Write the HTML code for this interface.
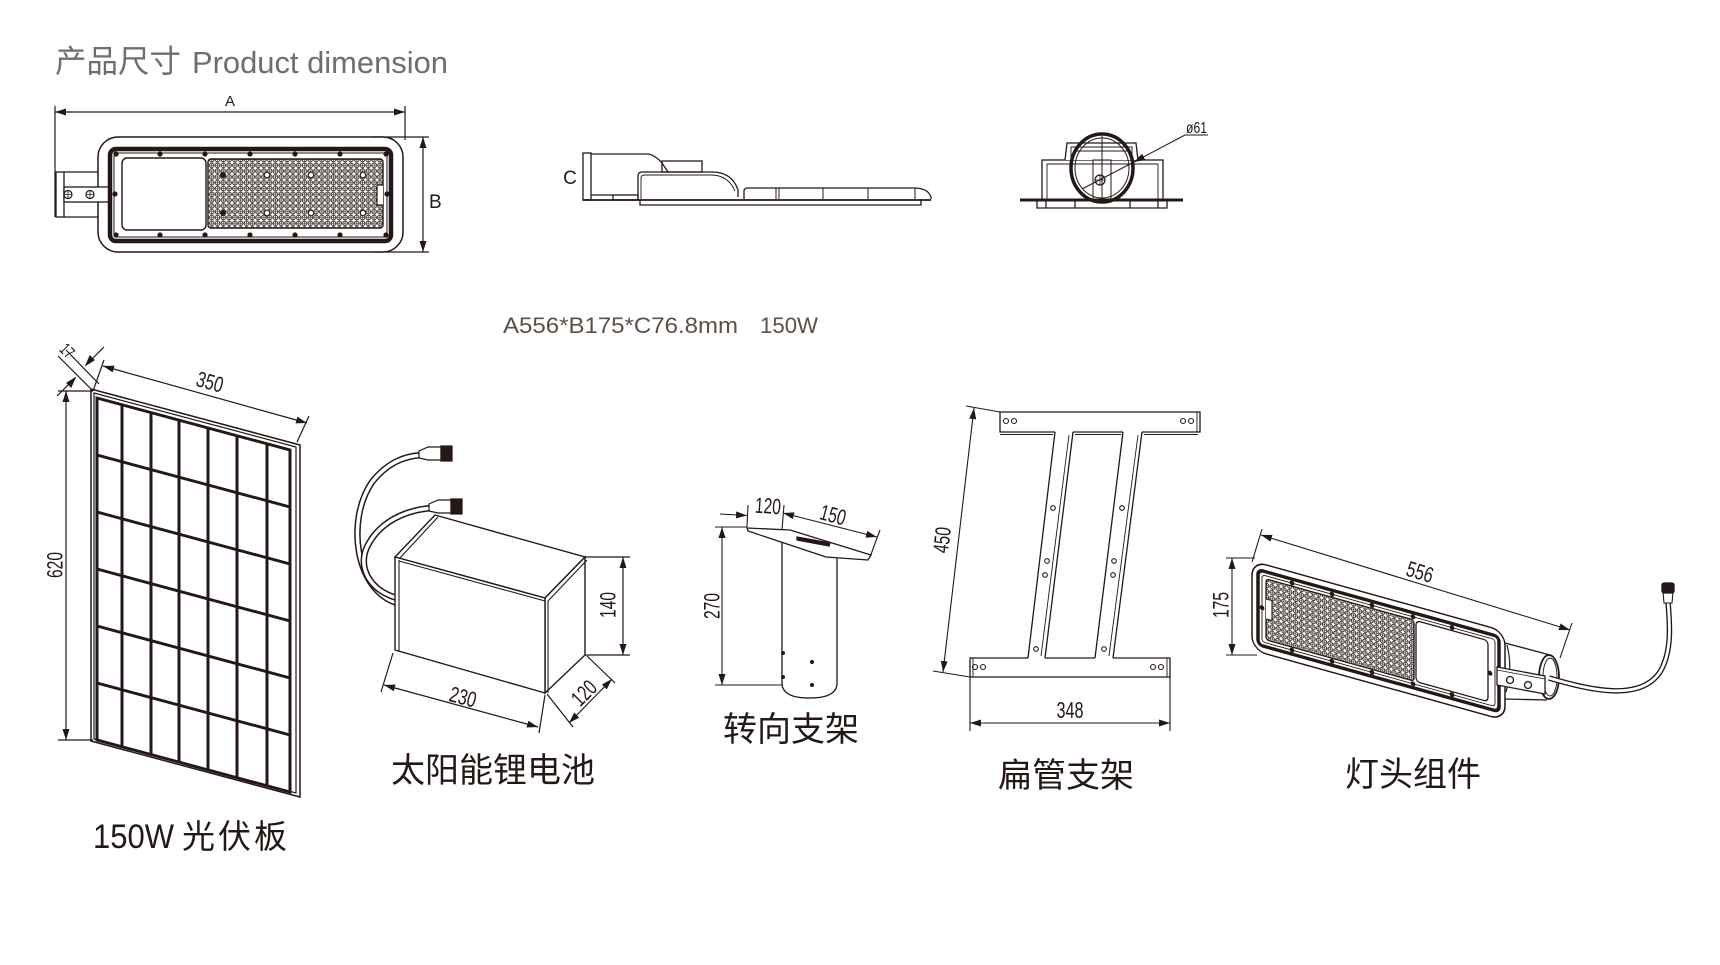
<!DOCTYPE html>
<html><head><meta charset="utf-8">
<style>
html,body{margin:0;padding:0;background:#fff;}
svg{display:block;}
text{font-family:"Liberation Sans","Noto Sans CJK SC",sans-serif;fill:#231815;}
.cj{font-family:"Liberation Sans","Noto Sans CJK SC",sans-serif;}
</style></head><body>
<svg width="1720" height="965" viewBox="0 0 1720 965" xmlns="http://www.w3.org/2000/svg">
<defs>
<marker id="ae" markerUnits="userSpaceOnUse" markerWidth="12" markerHeight="8" refX="11" refY="3.5" orient="auto"><path d="M0,0 L11,3.5 L0,7 z" fill="#231815"/></marker>
<marker id="as" markerUnits="userSpaceOnUse" markerWidth="12" markerHeight="8" refX="0" refY="3.5" orient="auto"><path d="M11,0 L0,3.5 L11,7 z" fill="#231815"/></marker>
<pattern id="led" width="5.8" height="5.8" patternUnits="userSpaceOnUse"><rect width="5.8" height="5.8" fill="#fff"/><circle cx="2.9" cy="2.9" r="2.3" fill="none" stroke="#231815" stroke-width="0.95"/><path d="M2.9 1.3V4.5M1.3 2.9H4.5" stroke="#231815" stroke-width="0.6"/></pattern>
</defs>
<rect width="1720" height="965" fill="#fff"/>

<!-- Title -->
<text x="55" y="72" font-size="31.5" style="fill:#6e6e6e">产品尺寸</text>
<text x="192" y="73" font-size="31" textLength="256" lengthAdjust="spacingAndGlyphs" style="fill:#6e6e6e">Product dimension</text>

<!-- ============ TOP VIEW ============ -->
<g fill="none" stroke="#231815" stroke-width="1.2">
  <line x1="55" y1="106" x2="55" y2="217"/>
  <line x1="405" y1="106" x2="405" y2="140"/>
  <line x1="55" y1="112" x2="405" y2="112" marker-start="url(#as)" marker-end="url(#ae)"/>
  <line x1="372" y1="137" x2="429" y2="137"/>
  <line x1="372" y1="252" x2="429" y2="252"/>
  <line x1="423" y1="137" x2="423" y2="252" marker-start="url(#as)" marker-end="url(#ae)"/>
  <rect x="56" y="172" width="8" height="45" stroke-width="1.3"/>
  <path d="M64 172 H100 M64 217 H100" stroke-width="1.3"/>
  <rect x="98" y="137" width="305" height="115" rx="20" fill="#fff" stroke-width="1.5"/>
  <rect x="64" y="187" width="46" height="15" fill="#fff" stroke-width="1.3"/>
  <rect x="110" y="149" width="281" height="92" rx="6" stroke-width="4.5"/>
  <rect x="114" y="153" width="273" height="84" rx="3" stroke-width="1"/>
  <rect x="122" y="158" width="84" height="72" rx="5" stroke-width="1.4"/>
  <rect x="208" y="159" width="175" height="69" rx="3" fill="url(#led)" stroke-width="1.4"/>
  <path d="M383 185 H377 V205 H383" fill="#fff" stroke-width="1.2"/>
  <circle cx="68" cy="194.5" r="4" stroke-width="1.2"/>
  <circle cx="90" cy="194.5" r="4" stroke-width="1.2"/>
  <path d="M68 190.5V198.5M64 194.5H72M90 190.5V198.5M86 194.5H94" stroke-width="0.8"/>
</g>
<g fill="#231815">
  <circle cx="116" cy="154" r="2.6"/><circle cx="160" cy="154" r="2.6"/><circle cx="205" cy="154" r="2.6"/><circle cx="250" cy="154" r="2.6"/><circle cx="295" cy="154" r="2.6"/><circle cx="340" cy="154" r="2.6"/><circle cx="386" cy="154" r="2.6"/>
  <circle cx="116" cy="235" r="2.6"/><circle cx="160" cy="235" r="2.6"/><circle cx="205" cy="235" r="2.6"/><circle cx="250" cy="235" r="2.6"/><circle cx="295" cy="235" r="2.6"/><circle cx="340" cy="235" r="2.6"/><circle cx="386" cy="235" r="2.6"/>
  <circle cx="115" cy="194" r="2.6"/><circle cx="387" cy="194" r="2.6"/>
  <circle cx="223" cy="175" r="3"/><circle cx="223" cy="213" r="3"/>
</g>
<g fill="#fff" stroke="#231815" stroke-width="1.2">
  <circle cx="267" cy="175" r="2.8"/><circle cx="311" cy="175" r="2.8"/><circle cx="363" cy="175" r="2.8"/>
  <circle cx="267" cy="213" r="2.8"/><circle cx="311" cy="213" r="2.8"/><circle cx="363" cy="213" r="2.8"/>
</g>
<text x="230" y="106" font-size="15" text-anchor="middle">A</text>
<text x="429" y="208" font-size="19">B</text>

<!-- ============ SIDE VIEW ============ -->
<g fill="none" stroke="#231815" stroke-width="1.3">
  <rect x="583" y="153" width="8" height="47"/>
  <path d="M591 154 H649 Q656 156 662 163 L668 172"/>
  <rect x="662" y="161" width="40" height="11"/>
  <path d="M638 200 V176 Q638 172 642 172 H712 Q732 172 738 190 V197"/>
  <path d="M641 199 V178 Q641 175 645 175 H711 Q728 175 735 191" stroke-width="0.9"/>
  <path d="M744 199 V191 Q744 188 748 188 H914 Q928 188 931 197 V199"/>
  <path d="M776 188 V199 M779 188 V199 M823 188 V199 M868 188 V199 M915 188 V199" stroke-width="1"/>
  <line x1="583" y1="200" x2="931" y2="200" stroke-width="1.8"/>
  <path d="M640 200 V205 H921 V200"/>
  <rect x="613" y="195" width="25" height="5"/>
  <line x1="591" y1="195" x2="613" y2="195"/>
</g>
<text x="570" y="184" font-size="19" text-anchor="middle">C</text>

<!-- ============ END VIEW ============ -->
<g fill="none" stroke="#231815" stroke-width="1.3">
  <path d="M1037 200 V208 H1167 V200 M1046 200 V208 M1075 200 V208 M1130 200 V208 M1158 200 V208"/>
  <rect x="1042" y="160" width="121" height="40" fill="#fff"/>
  <path d="M1047 200 V164 H1158 V200" stroke-width="0.9"/>
  <path d="M1065 160 L1067 143 H1136 L1138 160" fill="#fff"/>
  <path d="M1071 160 V147 H1132 V160" stroke-width="0.9"/>
  <rect x="1093" y="160" width="18" height="40" stroke-width="1"/>
  <ellipse cx="1102" cy="168" rx="31" ry="34" stroke-width="3.5"/>
  <ellipse cx="1102" cy="168" rx="27" ry="30" stroke-width="1"/>
  <line x1="1102" y1="136" x2="1102" y2="200" stroke-width="1"/>
  <line x1="1074" y1="151" x2="1130" y2="151" stroke-width="1"/>
  <circle cx="1100" cy="180" r="5" stroke-width="1.2"/>
  <path d="M1100 175V185M1095 180H1105" stroke-width="0.8"/>
  <line x1="1020" y1="200" x2="1183" y2="200" stroke-width="3"/>
  <line x1="1082" y1="189" x2="1134" y2="162" stroke-width="1"/>
  <line x1="1134" y1="162" x2="1185" y2="135" stroke-width="1" marker-start="url(#as)"/>
  <line x1="1185" y1="135" x2="1208" y2="135" stroke-width="1"/>
</g>
<text x="1186" y="133" font-size="16" textLength="21" lengthAdjust="spacingAndGlyphs">ø61</text>

<!-- spec line -->
<text x="503" y="333" font-size="22" textLength="235" lengthAdjust="spacingAndGlyphs" style="fill:#5b4f47">A556*B175*C76.8mm</text>
<text x="760" y="333" font-size="22" textLength="58" lengthAdjust="spacingAndGlyphs" style="fill:#5b4f47">150W</text>

<!-- ============ SOLAR PANEL ============ -->
<g fill="none" stroke="#231815">
  <polygon points="91,389 300,445 300,797 91,741" stroke-width="1.5" fill="#fff"/>
  <polygon points="94,393 296,447 296,793 94,739" stroke-width="1.2"/>
  <g transform="matrix(1 0.2694 0 1 0 -26.13)" stroke-width="3">
    <rect x="97" y="398" width="193" height="342"/>
    <path d="M122 398V740M151 398V740M179 398V740M208 398V740M237 398V740M267 398V740"/>
    <path d="M97 455H290M97 512H290M97 569H290M97 626H290M97 683H290"/>
  </g>
  <g stroke-width="1.2">
    <line x1="58" y1="391" x2="93" y2="391"/>
    <line x1="58" y1="740" x2="93" y2="740"/>
    <line x1="66" y1="391" x2="66" y2="740" marker-start="url(#as)" marker-end="url(#ae)"/>
    <line x1="93" y1="391" x2="104" y2="360"/>
    <line x1="297" y1="442" x2="309" y2="416"/>
    <line x1="103" y1="366" x2="307" y2="423" marker-start="url(#as)" marker-end="url(#ae)"/>
    <line x1="58" y1="356" x2="93" y2="391"/>
    <line x1="66" y1="350" x2="99" y2="384"/>
    <line x1="57" y1="396" x2="75" y2="378"/>
    <line x1="104" y1="347" x2="86" y2="365"/>
    <path d="M75 378 L67 383 L71 387 z M86 365 L94 360 L90 356 z" fill="#231815"/>
  </g>
</g>
<text transform="translate(55,565) rotate(-90)" font-size="22" text-anchor="middle" dominant-baseline="central" textLength="26" lengthAdjust="spacingAndGlyphs">620</text>
<text transform="translate(210,382) rotate(15.6)" font-size="22" text-anchor="middle" dominant-baseline="central" textLength="27" lengthAdjust="spacingAndGlyphs">350</text>
<text transform="translate(67,351) rotate(45)" font-size="17" text-anchor="middle" dominant-baseline="central" textLength="13" lengthAdjust="spacingAndGlyphs">17</text>
<text x="93" y="848" font-size="34" textLength="81" lengthAdjust="spacingAndGlyphs">150W</text>
<text x="182" y="848" font-size="33" letter-spacing="3" class="cj">光伏板</text>

<!-- ============ BATTERY ============ -->
<g fill="none" stroke="#231815">
  <path d="M397 603 C355 590 346 520 372 482 C388 462 405 456 422 455" stroke-width="6.5"/>
  <path d="M397 603 C355 590 346 520 372 482 C388 462 405 456 422 455" stroke="#fff" stroke-width="3.5"/>
  <path d="M397 598 C368 590 357 565 368 545 C380 522 405 510 432 508" stroke-width="6.5"/>
  <path d="M397 598 C368 590 357 565 368 545 C380 522 405 510 432 508" stroke="#fff" stroke-width="3.5"/>
  <g stroke-width="1.2" fill="#fff">
    <polygon points="419,451 428,447 441,447 441,460 428,460 419,458"/>
    <rect x="441" y="446" width="11" height="15" fill="#231815"/>
    <polygon points="429,504 438,500 451,500 451,513 438,513 429,511"/>
    <rect x="451" y="499" width="11" height="15" fill="#231815"/>
  </g>
  <g stroke-width="1.4" fill="#fff">
    <polygon points="395,557 435,515 585,557 545,598"/>
    <polygon points="545,598 585,557 585,655 545,693"/>
    <polygon points="395,557 545,598 545,693 395,650"/>
  </g>
  <g stroke-width="1.1">
    <line x1="399" y1="560" x2="399" y2="652"/>
    <line x1="399" y1="561" x2="545" y2="601"/>
    <line x1="548" y1="601" x2="548" y2="693"/>
    <line x1="548" y1="601" x2="587" y2="560"/>
    <line x1="399" y1="559" x2="438" y2="517"/>
  </g>
  <g stroke-width="1.2">
    <line x1="585" y1="557" x2="630" y2="557"/>
    <line x1="585" y1="655" x2="630" y2="655"/>
    <line x1="623" y1="557" x2="623" y2="655" marker-start="url(#as)" marker-end="url(#ae)"/>
    <line x1="393" y1="653" x2="381" y2="692"/>
    <line x1="545" y1="695" x2="539" y2="733"/>
    <line x1="384" y1="685" x2="538" y2="727" marker-start="url(#as)" marker-end="url(#ae)"/>
    <line x1="547" y1="694" x2="573" y2="727"/>
    <line x1="587" y1="656" x2="615" y2="683"/>
    <line x1="569" y1="723" x2="612" y2="679" marker-start="url(#as)" marker-end="url(#ae)"/>
  </g>
</g>
<text transform="translate(608,605) rotate(-90)" font-size="22" text-anchor="middle" dominant-baseline="central" textLength="26" lengthAdjust="spacingAndGlyphs">140</text>
<text transform="translate(463,697) rotate(15)" font-size="22" text-anchor="middle" dominant-baseline="central" textLength="27" lengthAdjust="spacingAndGlyphs">230</text>
<text transform="translate(584,693) rotate(-45)" font-size="22" text-anchor="middle" dominant-baseline="central" textLength="26" lengthAdjust="spacingAndGlyphs">120</text>
<text x="391" y="782" font-size="34" class="cj">太阳能锂电池</text>

<!-- ============ SWIVEL BRACKET ============ -->
<g fill="none" stroke="#231815" stroke-width="1.3">
  <path d="M782 531 V683 Q782 698 809.5 698 Q837 698 837 683 V556" fill="#fff"/>
  <polygon points="747,528 790,530 871,555 868,560 826,557 748,531" fill="#fff"/>
  <polygon points="797,537 830,543 829,546 797,540" fill="#231815"/>
  <g stroke-width="1.1">
    <line x1="715" y1="527" x2="747" y2="527"/>
    <line x1="715" y1="685" x2="782" y2="685"/>
    <line x1="722" y1="527" x2="722" y2="685" marker-start="url(#as)" marker-end="url(#ae)"/>
    <line x1="747" y1="527" x2="748" y2="505"/>
    <line x1="782" y1="530" x2="784" y2="505"/>
    <line x1="720" y1="514" x2="747" y2="515.5" marker-end="url(#ae)"/>
    <line x1="783" y1="513" x2="877" y2="537" marker-start="url(#as)" marker-end="url(#ae)"/>
    <line x1="870" y1="557" x2="880" y2="530"/>
  </g>
</g>
<g fill="#231815"><circle cx="783" cy="653" r="2"/><circle cx="783" cy="677" r="2"/><circle cx="812" cy="662" r="2"/><circle cx="812" cy="685" r="2"/></g>
<text transform="translate(768,506) rotate(4)" font-size="22" text-anchor="middle" dominant-baseline="central" textLength="26" lengthAdjust="spacingAndGlyphs">120</text>
<text transform="translate(833,515) rotate(15)" font-size="22" text-anchor="middle" dominant-baseline="central" textLength="26" lengthAdjust="spacingAndGlyphs">150</text>
<text transform="translate(712,606) rotate(-90)" font-size="22" text-anchor="middle" dominant-baseline="central" textLength="26" lengthAdjust="spacingAndGlyphs">270</text>
<text x="723" y="741" font-size="34" class="cj">转向支架</text>

<!-- ============ FLAT TUBE BRACKET ============ -->
<g fill="none" stroke="#231815" stroke-width="1.3">
  <!-- top bar (open where uprights join) -->
  <path d="M1055 432 H1000 V412 H1200 V432 H1142 M1123 432 H1073"/>
  <path d="M1000 434.5 H1053 M1075 434.5 H1121 M1144 434.5 H1198" stroke-width="0.9"/>
  <line x1="1197" y1="412" x2="1197" y2="432" stroke-width="0.9"/>
  <!-- uprights -->
  <path d="M1055 432 L1028 658 M1073 432 L1045 658 M1123 432 L1095 658 M1142 432 L1113 658"/>
  <path d="M1069 435 L1041 656 M1138 435 L1109 656" stroke-width="0.9"/>
  <!-- bottom bar (open where uprights join) -->
  <path d="M1028 658 H970 V677 H1170 V658 H1113 M1095 658 H1045"/>
  <path d="M973 658 V677 M1167 658 V677" stroke-width="0.9"/>
  <g stroke-width="1.1">
    <circle cx="1006" cy="421" r="2.5"/><circle cx="1014" cy="421" r="2.5"/><circle cx="1183" cy="421" r="2.5"/><circle cx="1191" cy="421" r="2.5"/>
    <circle cx="975" cy="667" r="2.5"/><circle cx="983" cy="667" r="2.5"/><circle cx="1153" cy="667" r="2.5"/><circle cx="1161" cy="667" r="2.5"/>
    <circle cx="1053" cy="508" r="2.3"/><circle cx="1122" cy="508" r="2.3"/>
    <circle cx="1047" cy="561" r="2.3"/><circle cx="1045" cy="575" r="2.3"/><circle cx="1114" cy="561" r="2.3"/><circle cx="1113" cy="575" r="2.3"/>
    <circle cx="1036" cy="649" r="2.3"/><circle cx="1104" cy="649" r="2.3"/>
  </g>
  <g stroke-width="1.1">
    <line x1="966" y1="406" x2="1000" y2="412"/>
    <line x1="933" y1="671" x2="970" y2="677"/>
    <line x1="974" y1="408" x2="943" y2="672" marker-start="url(#as)" marker-end="url(#ae)"/>
    <line x1="970" y1="677" x2="970" y2="731"/>
    <line x1="1170" y1="677" x2="1170" y2="731"/>
    <line x1="970" y1="723" x2="1170" y2="723" marker-start="url(#as)" marker-end="url(#ae)"/>
  </g>
</g>
<text transform="translate(942,540) rotate(-83.5)" font-size="22" text-anchor="middle" dominant-baseline="central" textLength="26" lengthAdjust="spacingAndGlyphs">450</text>
<text transform="translate(1070,710)" font-size="23" text-anchor="middle" dominant-baseline="central" textLength="27" lengthAdjust="spacingAndGlyphs">348</text>
<text x="998" y="787" font-size="34" class="cj">扁管支架</text>

<!-- ============ LAMP ASSEMBLY ============ -->
<g fill="none" stroke="#231815" stroke-width="1.3">
  <path d="M1507 645 Q1513 668 1506 692" stroke-width="1.2"/>
  <path d="M1505 643 L1550 655 M1505 699 L1547 700" />
  <g transform="matrix(1 0.278 0 1 1252 561)">
    <rect x="0" y="0" width="253" height="89" rx="14" fill="#fff" stroke-width="1.5"/>
    <rect x="6" y="7" width="241" height="75" rx="5" stroke-width="3.5"/>
    <rect x="10" y="11" width="233" height="67" rx="3" stroke-width="0.9"/>
    <rect x="14" y="14" width="148" height="61" rx="3" fill="url(#led)" stroke-width="1.3"/>
    <rect x="164" y="14" width="72" height="61" rx="4" stroke-width="1.3"/>
    <path d="M14 34 H20 V54 H14" fill="#fff" stroke-width="1.1"/>
    <g fill="#231815" stroke="none">
      <circle cx="40" cy="11" r="2.4"/><circle cx="80" cy="11" r="2.4"/><circle cx="120" cy="11" r="2.4"/><circle cx="161" cy="11" r="2.4"/><circle cx="200" cy="11" r="2.4"/>
      <circle cx="40" cy="78" r="2.4"/><circle cx="80" cy="78" r="2.4"/><circle cx="120" cy="78" r="2.4"/><circle cx="161" cy="78" r="2.4"/><circle cx="200" cy="78" r="2.4"/>
      <circle cx="238" cy="46" r="2.4"/><circle cx="10" cy="44" r="2.4"/>
    </g>
  </g>
  <ellipse cx="1549" cy="677" rx="10" ry="22" fill="#fff" stroke-width="1.8"/>
  <ellipse cx="1550" cy="677" rx="7" ry="19" stroke-width="0.9"/>
  <polygon points="1497,667 1545,676 1545,694 1497,685" fill="#fff"/>
  <line x1="1497" y1="670" x2="1545" y2="679" stroke-width="0.8"/>
  <circle cx="1510" cy="680" r="3.5"/><circle cx="1528" cy="685" r="3.5"/>
  <path d="M1549 678 C1590 690 1640 702 1660 672 C1672 652 1670 625 1668 602" stroke-width="5.5"/>
  <path d="M1549 678 C1590 690 1640 702 1660 672 C1672 652 1670 625 1668 602" stroke="#fff" stroke-width="2.8"/>
  <polygon points="1664,603 1663,592 1673,592 1672,603" fill="#fff" stroke-width="1.1"/>
  <rect x="1662" y="583" width="12" height="10" rx="2" fill="#231815"/>
  <g stroke-width="1.1">
    <line x1="1252" y1="562" x2="1262" y2="529"/>
    <line x1="1572" y1="623" x2="1560" y2="658"/>
    <line x1="1261" y1="535" x2="1570" y2="630" marker-start="url(#as)" marker-end="url(#ae)"/>
    <line x1="1226" y1="558" x2="1255" y2="558"/>
    <line x1="1226" y1="655" x2="1257" y2="655"/>
    <line x1="1232" y1="558" x2="1232" y2="655" marker-start="url(#as)" marker-end="url(#ae)"/>
  </g>
</g>
<text transform="translate(1420,572) rotate(17)" font-size="22" text-anchor="middle" dominant-baseline="central" textLength="27" lengthAdjust="spacingAndGlyphs">556</text>
<text transform="translate(1221,605) rotate(-90)" font-size="22" text-anchor="middle" dominant-baseline="central" textLength="26" lengthAdjust="spacingAndGlyphs">175</text>
<text x="1345" y="786" font-size="34" class="cj">灯头组件</text>
</svg>
</body></html>
